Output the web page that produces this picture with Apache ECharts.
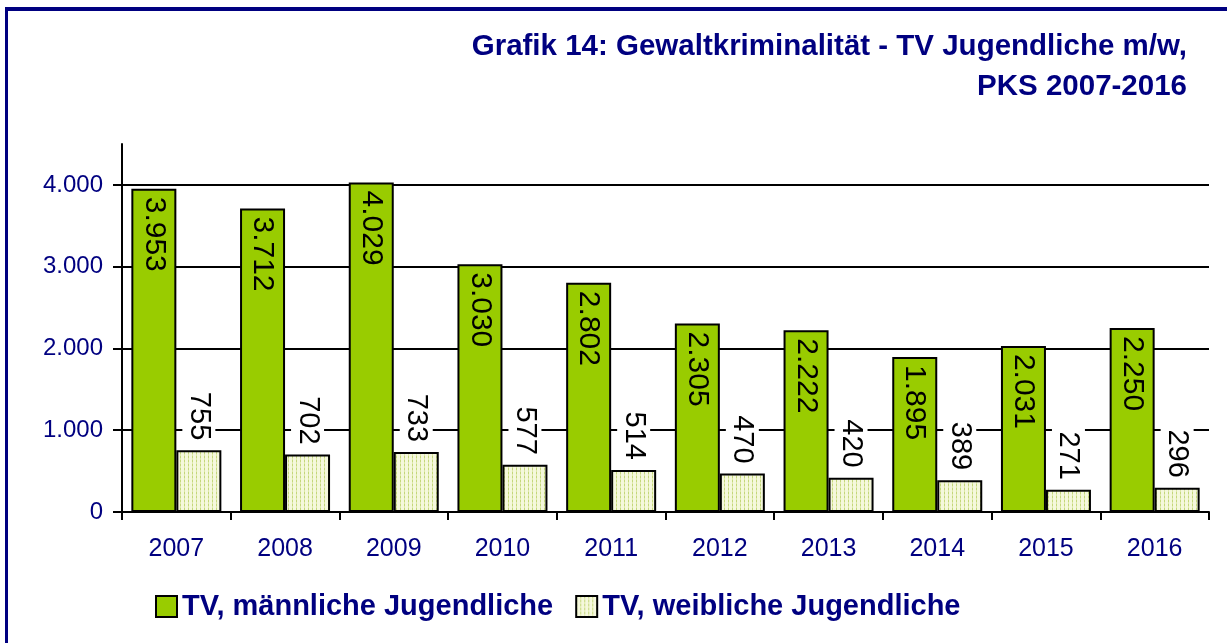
<!DOCTYPE html>
<html>
<head>
<meta charset="utf-8">
<script src="https://cdn.jsdelivr.net/npm/echarts@6/dist/echarts.min.js"></script>
<style>
  body { margin: 0; background: #fff; }
  #frame { position: absolute; left: 5px; top: 7px; width: 1222px; height: 636px;
           border-top: 4px solid #000080; border-left: 3px solid #000080; box-sizing: border-box; }
  #chart { position: absolute; left: 0; top: 0; width: 1227px; height: 643px; }
</style>
</head>
<body>
<div id="frame"></div>
<div id="chart"></div>
<script>
// data
const years = ['2007', '2008', '2009', '2010', '2011', '2012', '2013', '2014', '2015', '2016']
const maleValues = [3953, 3712, 4029, 3030, 2802, 2305, 2222, 1895, 2031, 2250]
const femaleValues = [755, 702, 733, 577, 514, 470, 420, 389, 271, 296]
const yTicks = [0, 1000, 2000, 3000, 4000]
const titleLines = ['Grafik 14: Gewaltkriminalität - TV Jugendliche m/w,', 'PKS 2007-2016']

const navy = '#000080'
const font = 'Liberation Sans, Arial'
const fmt = v => String(v).replace(/\B(?=(\d{3})+(?!\d))/g, '.')

// dotted cream pattern for the female bars
const makePattern = () => {
    const c = document.createElement('canvas')
    c.width = 4
    c.height = 4
    const ctx = c.getContext('2d')
    ctx.fillStyle = '#f5f8dc'
    ctx.fillRect(0, 0, 4, 4)
    ctx.fillStyle = '#c4d77a'
    ctx.fillRect(0, 0, 1, 2)
    ctx.fillStyle = '#dde7a8'
    ctx.fillRect(0, 2, 1, 2)
    return c
}

const myChart = echarts.init(document.getElementById('chart'))

const option = {
    animation: false,
    // one title block per line so both lines stay right-aligned
    title: titleLines.map((t, i) => ({
        text: t,
        right: 40,
        top: 32 + i * 40,
        padding: 0,
        textStyle: {
            fontFamily: font,
            fontWeight: 'bold',
            fontSize: 29.5,
            color: navy
        }
    })),
    legend: {
        left: 150,
        top: 587,
        itemWidth: 21,
        itemHeight: 21,
        itemGap: 22,
        icon: 'rect',
        textStyle: {
            fontFamily: font,
            fontWeight: 'bold',
            fontSize: 29,
            color: navy
        }
    },
    grid: {
        left: 122,
        right: 18,
        top: 144,
        bottom: 131
    },
    xAxis: {
        type: 'category',
        data: years,
        axisLine: { lineStyle: { color: '#000', width: 2 } },
        axisTick: { show: true, length: 8, lineStyle: { color: '#000', width: 2 } },
        axisLabel: {
            margin: 25,
            fontFamily: font,
            fontSize: 25,
            color: navy
        }
    },
    yAxis: [
        {
            type: 'value',
            min: 0,
            max: 4500,
            axisLine: { show: true, lineStyle: { color: '#000', width: 2 } },
            axisTick: { show: true, length: 9, customValues: yTicks, lineStyle: { color: '#000', width: 2 } },
            axisLabel: {
                customValues: yTicks,
                margin: 19,
                formatter: fmt,
                fontFamily: font,
                fontSize: 24,
                color: navy
            },
            splitLine: { show: true, lineStyle: { color: '#000', width: 2 } }
        },
        {
            type: 'value',
            position: 'left',
            min: 0,
            max: 4500,
            axisLine: { show: false },
            axisTick: { show: true, inside: true, length: 7, customValues: yTicks, lineStyle: { color: '#000', width: 2 } },
            axisLabel: { show: false },
            splitLine: { show: false }
        }
    ],
    series: [
        {
            name: 'TV, männliche Jugendliche',
            type: 'bar',
            data: maleValues,
            barWidth: 45,
            barGap: '0%',
            itemStyle: { color: '#99cc00', borderColor: '#000', borderWidth: 2 },
            label: {
                show: true,
                position: 'insideTop',
                distance: 8,
                rotate: -90,
                align: 'left',
                verticalAlign: 'middle',
                formatter: p => fmt(p.value),
                fontFamily: font,
                fontSize: 30,
                color: '#000'
            }
        },
        {
            name: 'TV, weibliche Jugendliche',
            type: 'bar',
            data: femaleValues,
            barWidth: 45,
            itemStyle: {
                color: { image: makePattern(), repeat: 'repeat' },
                borderColor: '#000',
                borderWidth: 2
            },
            label: {
                show: true,
                position: 'top',
                distance: 6,
                rotate: -90,
                align: 'right',
                verticalAlign: 'middle',
                backgroundColor: '#fff',
                padding: [2, 4],
                formatter: p => fmt(p.value),
                fontFamily: font,
                fontSize: 29,
                color: '#000'
            }
        }
    ]
}

myChart.setOption(option)
</script>
</body>
</html>
